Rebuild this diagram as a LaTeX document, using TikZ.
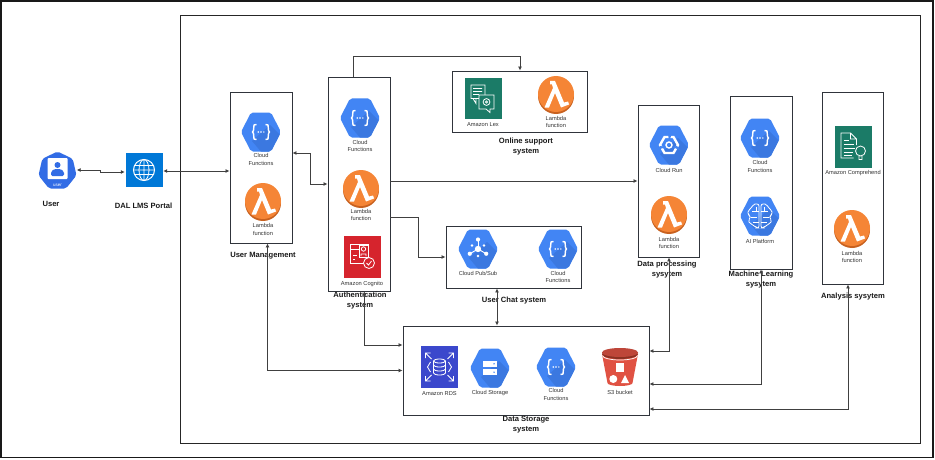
\documentclass[tikz,border=0pt]{standalone}
\usepackage{fontspec}
\setmainfont{Liberation Sans}
\usetikzlibrary{arrows.meta,positioning}
\definecolor{gcpblue}{HTML}{4285F4}
\definecolor{gcpshade}{HTML}{3B78E0}
\definecolor{userblue}{HTML}{326CE5}
\definecolor{portalblue}{HTML}{0078D7}
\definecolor{lambdaorange}{HTML}{F58536}
\definecolor{lambdashade}{HTML}{C8611F}
\definecolor{cognitored}{HTML}{D6242D}
\definecolor{awsgreen}{HTML}{1B7B67}
\definecolor{rdsblue}{HTML}{3B48CC}
\definecolor{bucketred}{HTML}{E05243}
\definecolor{bucketshade}{HTML}{8C3123}
\definecolor{darkgray}{HTML}{30343B}
\tikzset{
  sysbox/.style={draw=darkgray,line width=0.9pt,fill=white,inner sep=0pt},
  frameline/.style={draw=black!85,line width=0.8pt},
  link/.style={{Latex[length=4pt,width=4pt]}-{Latex[length=4pt,width=4pt]},line width=0.8pt,draw=black!75},
  linkto/.style={-{Latex[length=4pt,width=4pt]},line width=0.8pt,draw=black!75},
  iconspot/.style={inner sep=0pt,minimum width=38pt,minimum height=36pt},
  iconlabel/.style={font=\fontsize{5.7}{7.5}\selectfont,align=center,inner sep=0pt,text=black!80},
  systitle/.style={font=\fontsize{7.6}{10}\selectfont\bfseries,align=center,inner sep=0pt,text=black!90},
  glyph/.style={draw=white,line width=0.8pt,fill=none},
  glyphfill/.style={fill=white,draw=none},
  pics/hexicon/.style={code={
    \begin{scope}
      \clip[rounded corners=2pt] (-20,0) -- (-10,-19.5) -- (10,-19.5) -- (20,0) -- (10,19.5) -- (-10,19.5) -- cycle;
      \fill[gcpblue] (-20,-20) rectangle (20,20);
      \fill[gcpshade] (9,-7) -- (22,6) -- (22,22) -- (2,22) -- (-9,9) -- cycle;
    \end{scope}
  }},
  pics/fnicon/.style={code={
    \pic {hexicon};
    \draw[glyph,line width=1.4pt,line join=round] (-4.5,-7.5) -- (-7,-7) -- (-7.5,-1.5) -- (-8.5,0) -- (-7.5,1.5) -- (-7,7) -- (-4.5,7.5);
    \draw[glyph,line width=1.4pt,line join=round] (4.5,-7.5) -- (7,-7) -- (7.5,-1.5) -- (8.5,0) -- (7.5,1.5) -- (7,7) -- (4.5,7.5);
    \foreach \dx in {-2.8,0,2.8}{\fill[white] (\dx,0) circle (0.8);}
  }},
  pics/lambdaicon/.style={code={
    \fill[lambdashade] (0,1) circle (18);
    \fill[lambdaorange] (0,-1) circle (18);
    \fill[white] (-6,-14) -- (-1,-14) -- (8,7.5) -- (12,6.5) -- (13,9.5) -- (5,12.5) -- (-1,-2) -- (-7,12.5) -- (-11.5,12.5) -- (-3,-7) -- (-4,-10.5) -- (-6,-10.5) -- cycle;
  }},
  pics/runicon/.style={code={
    \pic {hexicon};
    \draw[glyph,line width=2.4pt] (-4.5,-8) -- (4.5,-8) -- (9,0) -- (4.5,8) -- (-4.5,8) -- (-9,0) -- cycle;
    \fill[gcpblue] (-1,-12) -- (3,-12) -- (0,-3) -- cycle (-12,5) -- (-9,1) -- (-3,2) -- cycle (11,5) -- (8,1) -- (3,2) -- cycle;
    \draw[glyph,line width=1.4pt] (0,0) circle (3);
  }},
  pics/brainicon/.style={code={
    \pic {hexicon};
    \draw[glyph,rounded corners=2pt] (-1,-12) -- (-7,-12) -- (-8,-8) -- (-12,-6) -- (-12,-1) -- (-9,1) -- (-12,4) -- (-10,8) -- (-6,9) -- (-4,12) -- (-1,12) -- cycle;
    \draw[glyph,rounded corners=2pt] (1,-12) -- (7,-12) -- (8,-8) -- (12,-6) -- (12,-1) -- (9,1) -- (12,4) -- (10,8) -- (6,9) -- (4,12) -- (1,12) -- cycle;
    \draw[glyph] (-8,-5) -- (-1,-5) (-9,1) -- (-3,1) (-7,6) -- (-1,6) (8,-5) -- (1,-5) (9,1) -- (3,1) (7,6) -- (1,6) (-4,-9) -- (-4,-5) (4,-9) -- (4,-5);
  }},
  pics/pubsubicon/.style={code={
    \pic {hexicon};
    \fill[white] (0,0) circle (3.2);
    \foreach \ang in {-90,30,150}{
      \draw[white,line width=0.9pt] (0,0) -- (\ang:9.5);
      \fill[white] (\ang:9.5) circle (2.1);
    }
    \foreach \ang in {-30,90,210}{\fill[white] (\ang:7) circle (1.4);}
  }},
  pics/storeicon/.style={code={
    \pic {hexicon};
    \fill[white] (-7,-7) rectangle (7,-1.3);
    \fill[white] (-7,1.3) rectangle (7,7);
    \fill[gcpblue] (4,-4.2) circle (0.8) (4,4.2) circle (0.8);
  }},
  pics/usericon/.style={code={
    \fill[userblue,rounded corners=2pt] (-90:19.5) -- (-38.6:19.5) -- (12.9:19.5) -- (64.3:19.5) -- (115.7:19.5) -- (167.1:19.5) -- (218.6:19.5) -- cycle;
    \fill[white,rounded corners=1pt] (-10,-13) rectangle (10,8);
    \fill[userblue] (0,-6) circle (3);
    \fill[userblue,rounded corners=1.5pt] (-6.5,5) -- (-6.5,0.5) -- (-3,-2) -- (3,-2) -- (6.5,0.5) -- (6.5,5) -- cycle;
  }},
  pics/globeicon/.style={code={
    \fill[portalblue] (-18.5,-17) rectangle (18.5,17);
    \draw[glyph,line width=1pt] (0,0) circle (10.5);
    \draw[glyph] (0,0) ellipse (5 and 10.5) (0,-10.5) -- (0,10.5) (-10.5,0) -- (10.5,0) (-9.3,-4.5) -- (9.3,-4.5) (-9.3,4.5) -- (9.3,4.5);
  }},
  pics/cognitoicon/.style={code={
    \fill[cognitored] (-18.5,-21) rectangle (18.5,21);
    \draw[glyph] (-12,-13) rectangle (6,6) (-12,-8) -- (-3,-8) (-9,-2) -- (-5,-2) (-9,2) -- (-7,2);
    \draw[glyph,fill=cognitored] (-3,-12) rectangle (6,0);
    \draw[glyph] (1.5,-8) circle (2.2) (-1,-1) -- (-1,-3) -- (4,-3) -- (4,-1);
    \draw[glyph,fill=cognitored] (7,6) circle (5.5);
    \draw[glyph] (4.5,6) -- (6.5,8) -- (9.5,4);
  }},
  pics/lexicon/.style={code={
    \fill[awsgreen] (-18.5,-20.5) rectangle (18.5,20.5);
    \draw[glyph] (-12,-13.5) rectangle (2,0) (-10,0) -- (-7,5) -- (-7,0) (-10,-10) -- (-1,-10) (-10,-7) -- (-1,-7) (-10,-4) -- (-4,-4);
    \draw[glyph,fill=awsgreen] (-4,-3.5) -- (11,-3.5) -- (11,10.5) -- (7,10.5) -- (7,14) -- (3,10.5) -- (-4,10.5) -- cycle;
    \draw[glyph] (3.5,3.5) circle (3.4) (3.5,3.5) circle (1.1);
  }},
  pics/comprehendicon/.style={code={
    \fill[awsgreen] (-18.5,-21) rectangle (18.5,21);
    \draw[glyph] (0,11) -- (-12.5,11) -- (-12.5,-14) -- (-3,-14) -- (3,-8) -- (3,-2) (-3,-14) -- (-3,-8) -- (3,-8);
    \draw[glyph] (-10,-7) -- (-5,-7) (-10,-3) -- (0,-3) (-10,1) -- (1,1) (-10,5) -- (-1,5) (-10,8) -- (-2,8);
    \draw[glyph] (7,4) circle (5) (5.5,9) -- (5.5,12.5) -- (8.5,12.5) -- (8.5,9);
  }},
  pics/rdsicon/.style={code={
    \fill[rdsblue] (-18.5,-21) rectangle (18.5,21);
    \draw[glyph] (0,-6) ellipse (6 and 2) (-6,-6) -- (-6,6) (6,-6) -- (6,6) (-6,6) arc (180:0:6 and 2);
    \draw[glyph] (-6,-2) arc (180:0:6 and 2) (-6,2) arc (180:0:6 and 2);
    \draw[glyph] (-9,-5) -- (-12,0) -- (-9,5) (9,-5) -- (12,0) -- (9,5);
    \foreach \sx in {-1,1}{\foreach \sy in {-1,1}{
      \draw[glyph] (\sx*8,\sy*8) -- (\sx*14,\sy*14) (\sx*14,\sy*9) -- (\sx*14,\sy*14) -- (\sx*9,\sy*14);
    }}
  }},
  pics/bucketicon/.style={code={
    \fill[bucketred] (-18,-13) -- (18,-13) -- (12.5,16) arc (0:180:12.5 and 3) -- cycle;
    \fill[bucketshade] (0,-13) ellipse (18 and 5);
    \fill[bucketred!85!black] (0,-14.5) ellipse (18 and 4.5);
    \draw[white,line width=0.7pt] (-17.5,-11.5) arc (180:0:17.5 and 4.5);
    \fill[white] (-4,-4) rectangle (4,5);
    \fill[white] (-6.7,12) circle (4);
    \fill[white] (1,16) -- (5,8) -- (9,16) -- cycle;
  }}
}
\begin{document}
\begin{tikzpicture}[x=1pt,y=-1pt]
  \useasboundingbox (0,0) rectangle (935,460);
  % frames
  \draw[black!90,line width=1.6pt] (1,1) rectangle (933,457.5);
  \draw[frameline] (180.5,15) rectangle (920.5,443);
  % system boxes
  \node[sysbox,minimum width=62pt,minimum height=151pt] (usermgmt) at (261,167.5) {};
  \node[sysbox,minimum width=62pt,minimum height=214pt] (auth) at (359,184) {};
  \node[sysbox,minimum width=135pt,minimum height=61pt] (online) at (519.5,101.5) {};
  \node[sysbox,minimum width=135pt,minimum height=62pt] (chat) at (513.5,257) {};
  \node[sysbox,minimum width=61pt,minimum height=152pt] (dataproc) at (668.5,181) {};
  \node[sysbox,minimum width=62pt,minimum height=173pt] (mlsys) at (761,182.5) {};
  \node[sysbox,minimum width=61pt,minimum height=192pt] (analysis) at (852.5,188) {};
  \node[sysbox,minimum width=246pt,minimum height=89pt] (storage) at (526,370.5) {};
  % icons
  \node[iconspot] (user) at (57.5,171) {};
  \pic at (user) {usericon};
  \node[font=\fontsize{4.5}{5}\selectfont,text=white,inner sep=0pt] (usertag) at (57.5,185) {user};
  \node[iconspot] (portal) at (144,170) {};
  \pic at (portal) {globeicon};
  \foreach \nm/\px/\py/\ly in {umfn/261/132/159.5,authfn/360/118/145.8,chatfn/558/249/277,mlfn/760/138/166.5,storefn/556/367/394.5}{
    \pic at (\px,\py) {fnicon};
    \node[iconlabel] (\nm label) at (\px,\ly) {Cloud\\Functions};
  }
  \foreach \nm/\px/\py/\ly in {umlam/263/202/229.5,authlam/361/189/215,onlinelam/556/95/122,proclam/669/215/243,analysislam/852/229/257}{
    \pic at (\px,\py) {lambdaicon};
    \node[iconlabel] (\nm label) at (\px,\ly) {Lambda\\function};
  }
  \pic at (362,257) {cognitoicon};
  \node[iconlabel] (cognitolabel) at (362,284) {Amazon Cognito};
  \pic at (483,98.5) {lexicon};
  \node[iconlabel] (lexlabel) at (483,125) {Amazon Lex};
  \pic at (478,249) {pubsubicon};
  \node[iconlabel] (pubsublabel) at (478,273) {Cloud Pub/Sub};
  \pic at (669,145) {runicon};
  \node[iconlabel] (runlabel) at (669,170) {Cloud Run};
  \pic at (760,216) {brainicon};
  \node[iconlabel] (ailabel) at (760,241) {AI Platform};
  \pic at (853.5,147) {comprehendicon};
  \node[iconlabel] (comprehendlabel) at (853,173.5) {Amazon Comprehend};
  \pic at (439.5,367) {rdsicon};
  \node[iconlabel] (rdslabel) at (439.5,394) {Amazon RDS};
  \pic at (490,368) {storeicon};
  \node[iconlabel] (storelabel) at (490,393) {Cloud Storage};
  \pic at (620,367) {bucketicon};
  \node[iconlabel] (bucketlabel) at (620,392) {S3 bucket};
  % titles
  \node[systitle] (usertitle) at (51,204) {User};
  \node[systitle] (portaltitle) at (143.5,206) {DAL LMS Portal};
  \node[systitle] (umtitle) at (263,256) {User Management};
  \node[systitle] (authtitle) at (360,301) {Authentication\\system};
  \node[systitle] (onlinetitle) at (526,147) {Online support\\system};
  \node[systitle] (chattitle) at (514,301) {User Chat system};
  \node[systitle] (proctitle) at (667,270) {Data processing\\sysytem};
  \node[systitle] (mltitle) at (761,280) {Machine Learning\\sysytem};
  \node[systitle] (analysistitle) at (853,297) {Analysis sysytem};
  \node[systitle] (storagetitle) at (526,425) {Data Storage\\system};
  % connectors
  \draw[link] (user.east |- 0,170) -- (100,170) -- (100,172) -- (portal.west |- 0,172);
  \draw[link] (portal.east |- 0,171) -- (usermgmt.west |- 0,171);
  \draw[link] (usermgmt.east |- 0,153) -- (310,153) -- (310,184) -- (auth.west |- 0,184);
  \draw[linkto] (auth.north -| 353,0) -- (353,56) -- (520,56) -- (online.north -| 520,0);
  \draw[linkto] (auth.east |- 0,181) -- (dataproc.west |- 0,181);
  \draw[linkto] (auth.east |- 0,217.5) -- (418,217.5) -- (418,257) -- (chat.west |- 0,257);
  \draw[link] (auth.south -| 364.5,0) -- (364.5,345) -- (storage.west |- 0,345);
  \draw[link] (usermgmt.south -| 267.5,0) -- (267.5,370.5) -- (storage.west |- 0,370.5);
  \draw[link] (chat.south -| 497,0) -- (storage.north -| 497,0);
  \draw[link] (dataproc.south -| 669,0) -- (669,351) -- (storage.east |- 0,351);
  \draw[link] (mlsys.south -| 761,0) -- (761,384) -- (storage.east |- 0,384);
  \draw[link] (analysis.south -| 848,0) -- (848,409) -- (storage.east |- 0,409);
\end{tikzpicture}
\end{document}
